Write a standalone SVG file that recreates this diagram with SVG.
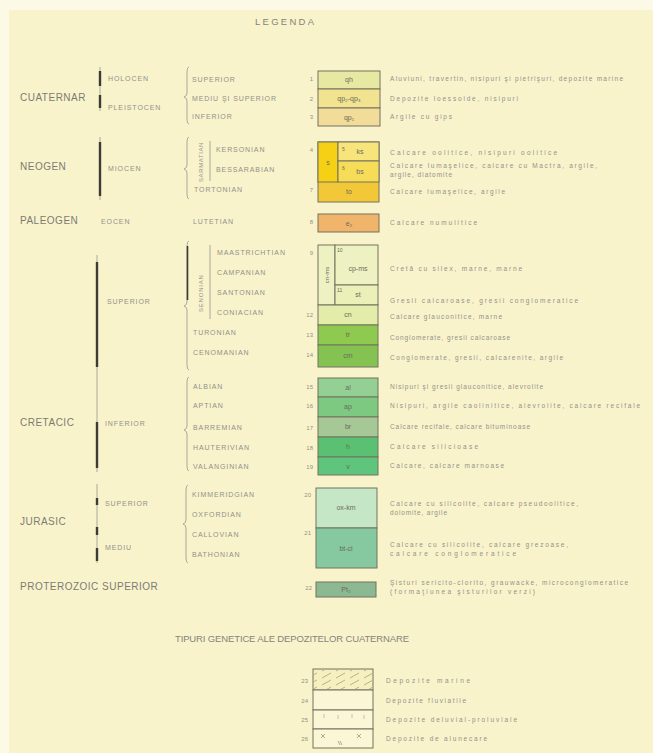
<svg xmlns="http://www.w3.org/2000/svg" width="653" height="753" viewBox="0 0 653 753">
<defs>
<pattern id="hatch" width="14" height="7" patternUnits="userSpaceOnUse">
<path d="M0 6 L9 1" stroke="#a8a470" stroke-width="0.8" fill="none"/>
</pattern>
</defs>
<style>
text{font-family:"Liberation Sans","DejaVu Sans",sans-serif;}
.era{font-size:10px;fill:#7c7b72;letter-spacing:0.5px;}
.ep{font-size:7px;fill:#929188;letter-spacing:0.9px;}
.num{font-size:6px;fill:#929188;text-anchor:end;}
.lbl{font-size:7px;fill:#6c6b5e;text-anchor:middle;}
.sm{font-size:5px;fill:#6c6b5e;}
.desc{font-size:6.5px;fill:#939288;}
.box{stroke:#73725f;stroke-width:1;}
.thin{stroke:#aaa89a;stroke-width:1;fill:none;}
.dark{stroke:#3c3b35;stroke-width:2.4;fill:none;}
.title{font-size:9.5px;fill:#85847a;letter-spacing:1px;}
</style>
<rect width="653" height="753" fill="#f9f3cc"/>
<rect width="653" height="10" fill="#fcf9e6"/>
<rect width="9" height="753" fill="#fcf9e6"/>

<text class="title" x="255" y="25" textLength="60">LEGENDA</text>

<g id="connectors">
<path class="thin" d="M100 67 V111"/>
<path class="dark" d="M100 71 V86 M100 95 V108"/>
<path class="thin" d="M189 67 Q187 67 187 72 V93 Q187 96 184 97 Q187 98 187 101 V120 Q187 124 189 124"/>
<path class="thin" d="M100 137 V200"/>
<path class="dark" d="M100 142 V196"/>
<path class="thin" d="M189 137 Q187 137 187 142 V165 Q187 168 184 169 Q187 170 187 173 V194 Q187 199 189 199"/>
<path class="thin" d="M210 141 V181"/>
<path class="thin" d="M97 255 V372"/>
<path class="dark" d="M97 262 V367"/>
<path class="thin" d="M189 241 Q187 241 187 246 V302 Q187 305 184 306 Q187 307 187 310 V365 Q187 370 189 370"/>
<path class="dark" d="M187.5 246 V300" style="stroke-width:1.6"/>
<path class="thin" d="M210 245 V319"/>
<path class="thin" d="M97 372 V472"/>
<path class="dark" d="M97 422 V468"/>
<path class="thin" d="M189 377 Q187 377 187 382 V426 Q187 429 184 430 Q187 431 187 434 V466 Q187 471 189 471"/>
<path class="thin" d="M97 484 V563"/>
<path class="dark" d="M97 498 V505 M97 527 V535 M97 548 V561"/>
<path class="thin" d="M188 485 Q186 485 186 490 V520 Q186 523 183 524 Q186 525 186 528 V558 Q186 563 188 563"/>
</g>

<g id="cuaternar">
<text class="era" x="20" y="101">CUATERNAR</text>
<text class="ep" x="108" y="81">HOLOCEN</text>
<text class="ep" x="108" y="110">PLEISTOCEN</text>
<text class="ep" x="192" y="82">SUPERIOR</text>
<text class="ep" x="192" y="101">MEDIU ŞI SUPERIOR</text>
<text class="ep" x="192" y="119">INFERIOR</text>
</g>
<g id="u1">
<text class="num" x="313" y="81">1</text>
<rect class="box" x="318" y="71" width="62" height="18" fill="#e7e9a2"/>
<text class="lbl" x="349" y="82">qh</text>
<text class="desc" x="390" y="81" textLength="233">Aluviuni, travertin, nisipuri şi pietrişuri, depozite marine</text>
</g>
<g id="u2">
<text class="num" x="313" y="101">2</text>
<rect class="box" x="318" y="89" width="62" height="19" fill="#f1e390"/>
<text class="lbl" x="349" y="101">qp₂-qp₃</text>
<text class="desc" x="390" y="101" textLength="128">Depozite loessoide, nisipuri</text>
</g>
<g id="u3">
<text class="num" x="313" y="119">3</text>
<rect class="box" x="318" y="108" width="62" height="18" fill="#f2dc9a"/>
<text class="lbl" x="349" y="120">qp₁</text>
<text class="desc" x="390" y="119" textLength="62">Argile cu gips</text>
</g>

<g id="neogen">
<text class="era" x="20" y="170">NEOGEN</text>
<text class="ep" x="108" y="171">MIOCEN</text>
<text class="ep" x="0" y="0" transform="translate(203 182) rotate(-90)" style="font-size:6px;letter-spacing:0.6px">SARMATIAN</text>
<text class="ep" x="216" y="152">KERSONIAN</text>
<text class="ep" x="216" y="172">BESSARABIAN</text>
<text class="ep" x="194" y="192">TORTONIAN</text>
</g>
<g id="u4">
<text class="num" x="313" y="152">4</text>
<rect class="box" x="318" y="142" width="61" height="60" fill="#f3c838"/>
<rect class="box" x="318" y="142" width="20" height="40" fill="#f6d014"/>
<text class="lbl" x="328" y="165">s</text>
</g>
<g id="u5">
<rect class="box" x="338" y="142" width="41" height="19" fill="#f7e47a"/>
<text class="sm" x="342" y="151">5</text>
<text class="lbl" x="360" y="154">ks</text>
<text class="desc" x="390" y="155" textLength="167">Calcare oolitice, nisipuri oolitice</text>
</g>
<g id="u6">
<rect class="box" x="338" y="161" width="41" height="21" fill="#f7dc58"/>
<text class="sm" x="342" y="170">6</text>
<text class="lbl" x="360" y="174">bs</text>
<text class="desc" x="390" y="168" textLength="207">Calcare lumaşelice, calcare cu Mactra, argile,</text>
<text class="desc" x="390" y="177" textLength="62">argile, diatomite</text>
</g>
<g id="u7">
<text class="num" x="313" y="192">7</text>
<text class="lbl" x="349" y="194">to</text>
<text class="desc" x="390" y="194" textLength="115">Calcare lumaşelice, argile</text>
</g>

<g id="paleogen">
<text class="era" x="20" y="224">PALEOGEN</text>
<text class="ep" x="101" y="224">EOCEN</text>
<text class="ep" x="193" y="224">LUTETIAN</text>
</g>
<g id="u8">
<text class="num" x="313" y="224">8</text>
<rect class="box" x="318" y="214" width="61" height="18" fill="#f0b46a"/>
<text class="lbl" x="349" y="226">e₂</text>
<text class="desc" x="390" y="225" textLength="87">Calcare numulitice</text>
</g>

<g id="cretacic-superior">
<text class="ep" x="107" y="304">SUPERIOR</text>
<text class="ep" x="0" y="0" transform="translate(203 312) rotate(-90)" style="font-size:6px;letter-spacing:0.8px">SENONIAN</text>
<text class="ep" x="217" y="255">MAASTRICHTIAN</text>
<text class="ep" x="217" y="275">CAMPANIAN</text>
<text class="ep" x="217" y="295">SANTONIAN</text>
<text class="ep" x="217" y="315">CONIACIAN</text>
<text class="ep" x="193" y="335">TURONIAN</text>
<text class="ep" x="193" y="355">CENOMANIAN</text>
</g>
<g id="u9">
<text class="num" x="313" y="255">9</text>
<rect class="box" x="318" y="245" width="17" height="60" fill="#eef2c2"/>
<text class="lbl" x="0" y="0" transform="translate(329 275) rotate(-90)" style="font-size:6px">cn-ms</text>
</g>
<g id="u10">
<rect class="box" x="335" y="245" width="43" height="40" fill="#eef2c2"/>
<text class="sm" x="337" y="252">10</text>
<text class="lbl" x="358" y="271">cp-ms</text>
<text class="desc" x="390" y="271" textLength="132">Cretă cu silex, marne, marne</text>
</g>
<g id="u11">
<rect class="box" x="335" y="285" width="43" height="20" fill="#eaf0b8"/>
<text class="sm" x="337" y="292">11</text>
<text class="lbl" x="358" y="297">st</text>
<text class="desc" x="390" y="303" textLength="188">Gresii calcaroase, gresii conglomeratice</text>
</g>
<g id="u12">
<text class="num" x="313" y="317">12</text>
<rect class="box" x="318" y="305" width="60" height="20" fill="#e3eca8"/>
<text class="lbl" x="348" y="317">cn</text>
<text class="desc" x="390" y="319" textLength="112">Calcare glauconitice, marne</text>
</g>
<g id="u13">
<text class="num" x="313" y="337">13</text>
<rect class="box" x="318" y="325" width="60" height="20" fill="#8ec950"/>
<text class="lbl" x="348" y="337">tr</text>
<text class="desc" x="390" y="340" textLength="120">Conglomerate, gresii calcaroase</text>
</g>
<g id="u14">
<text class="num" x="313" y="357">14</text>
<rect class="box" x="318" y="345" width="60" height="22" fill="#84c352"/>
<text class="lbl" x="348" y="358">cm</text>
<text class="desc" x="390" y="360" textLength="173">Conglomerate, gresii, calcarenite, argile</text>
</g>

<g id="cretacic-inferior">
<text class="era" x="20" y="426">CRETACIC</text>
<text class="ep" x="105" y="426">INFERIOR</text>
<text class="ep" x="193" y="389">ALBIAN</text>
<text class="ep" x="193" y="408">APTIAN</text>
<text class="ep" x="193" y="430">BARREMIAN</text>
<text class="ep" x="193" y="450">HAUTERIVIAN</text>
<text class="ep" x="193" y="469">VALANGINIAN</text>
</g>
<g id="u15">
<text class="num" x="313" y="389">15</text>
<rect class="box" x="318" y="378" width="60" height="19" fill="#94d094"/>
<text class="lbl" x="348" y="390">al</text>
<text class="desc" x="390" y="389" textLength="153">Nisipuri şi gresii glauconitice, alevrolite</text>
</g>
<g id="u16">
<text class="num" x="313" y="408">16</text>
<rect class="box" x="318" y="397" width="60" height="20" fill="#7dc982"/>
<text class="lbl" x="348" y="409">ap</text>
<text class="desc" x="390" y="408" textLength="250">Nisipuri, argile caolinitice, alevrolite, calcare recifale</text>
</g>
<g id="u17">
<text class="num" x="313" y="430">17</text>
<rect class="box" x="318" y="417" width="60" height="20" fill="#a6c896"/>
<text class="lbl" x="348" y="429">br</text>
<text class="desc" x="390" y="429" textLength="140">Calcare recifale, calcare bituminoase</text>
</g>
<g id="u18">
<text class="num" x="313" y="450">18</text>
<rect class="box" x="318" y="437" width="60" height="20" fill="#5ac172"/>
<text class="lbl" x="348" y="449">h</text>
<text class="desc" x="390" y="449" textLength="88">Calcare silicioase</text>
</g>
<g id="u19">
<text class="num" x="313" y="469">19</text>
<rect class="box" x="318" y="457" width="60" height="18" fill="#5fc47c"/>
<text class="lbl" x="348" y="469">v</text>
<text class="desc" x="390" y="468" textLength="114">Calcare, calcare marnoase</text>
</g>

<g id="jurasic">
<text class="era" x="20" y="525">JURASIC</text>
<text class="ep" x="105" y="506">SUPERIOR</text>
<text class="ep" x="105" y="550">MEDIU</text>
<text class="ep" x="192" y="497">KIMMERIDGIAN</text>
<text class="ep" x="192" y="517">OXFORDIAN</text>
<text class="ep" x="192" y="537">CALLOVIAN</text>
<text class="ep" x="192" y="557">BATHONIAN</text>
</g>
<g id="u20">
<text class="num" x="311" y="497">20</text>
<rect class="box" x="316" y="488" width="61" height="40" fill="#c6e7c6"/>
<text class="lbl" x="346" y="510">ox-km</text>
<text class="desc" x="390" y="506" textLength="188">Calcare cu silicolite, calcare pseudoolitice,</text>
<text class="desc" x="390" y="515" textLength="57">dolomite, argile</text>
</g>
<g id="u21">
<text class="num" x="311" y="535">21</text>
<rect class="box" x="316" y="528" width="61" height="40" fill="#86c9a0"/>
<text class="lbl" x="346" y="551">bt-cl</text>
<text class="desc" x="390" y="547" textLength="178">Calcare cu silicolite, calcare grezoase,</text>
<text class="desc" x="390" y="556" textLength="126">calcare conglomeratice</text>
</g>

<g id="proterozoic">
<text class="era" x="20" y="590">PROTEROZOIC SUPERIOR</text>
</g>
<g id="u22">
<text class="num" x="312" y="590">22</text>
<rect class="box" x="316" y="582" width="60" height="15" fill="#8cb892"/>
<text class="lbl" x="346" y="592">Pt₂</text>
<text class="desc" x="390" y="585" textLength="238">Şisturi sericito-clorito, grauwacke, microconglomeratice</text>
<text class="desc" x="390" y="594" textLength="145">(formaţiunea şisturilor verzi)</text>
</g>

<text class="title" x="175" y="642" textLength="235">TIPURI GENETICE ALE DEPOZITELOR CUATERNARE</text>

<g id="g23">
<text class="num" x="308" y="683">23</text>
<rect class="box" x="313" y="669" width="60" height="21" fill="#f6efbf"/>
<rect x="314" y="670" width="58" height="19" fill="url(#hatch)"/>
<text class="desc" x="386" y="683" textLength="84">Depozite marine</text>
</g>
<g id="g24">
<text class="num" x="308" y="703">24</text>
<rect class="box" x="313" y="690" width="60" height="20" fill="#faf6d6"/>
<text class="desc" x="386" y="703" textLength="80">Depozite fluviatile</text>
</g>
<g id="g25">
<text class="num" x="308" y="722">25</text>
<rect class="box" x="313" y="710" width="60" height="19" fill="#faf6d6"/>
<path d="M324 714 V718 M338 715 V719 M352 714 V718 M364 715 V719" stroke="#b8b6a0" stroke-width="0.8" fill="none"/>
<text class="desc" x="386" y="722" textLength="131">Depozite deluvial-proluviale</text>
</g>
<g id="g26">
<text class="num" x="308" y="741">26</text>
<rect class="box" x="313" y="729" width="60" height="19" fill="#faf6d6"/>
<path d="M321 734 L325 738 M325 734 L321 738 M338 741 L340 745 M340 741 L342 745 M357 734 L361 738 M361 734 L357 738" stroke="#9a9884" stroke-width="0.8" fill="none"/>
<text class="desc" x="386" y="741" textLength="101">Depozite de alunecare</text>
</g>
</svg>
